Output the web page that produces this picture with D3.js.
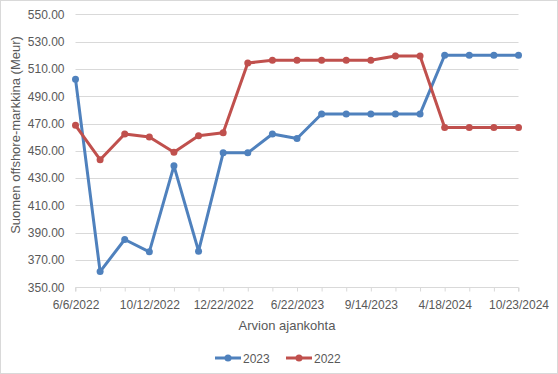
<!DOCTYPE html>
<html>
<head>
<meta charset="utf-8">
<script src="https://cdn.jsdelivr.net/npm/d3@7"></script>
<style>
  body { margin: 0; background: #fff; }
  text { font-family: "Liberation Sans", Arial, sans-serif; fill: #595959; }
</style>
</head>
<body>
<svg id="chart" width="558" height="374"></svg>
<script>
var outerWidth = 558;
var outerHeight = 374;

// dates of estimate (only every third is labelled on the axis)
var categories = ["6/6/2022", "8/1/2022", "9/5/2022", "10/12/2022", "11/9/2022", "12/1/2022",
  "12/22/2022", "2/15/2023", "4/19/2023", "6/22/2023", "7/12/2023", "8/16/2023",
  "9/14/2023", "11/8/2023", "1/24/2024", "4/18/2024", "6/12/2024", "8/28/2024", "10/23/2024"];
var values2023 = [502.5, 361.5, 385, 376, 439, 376.5, 448.5, 448.5, 462.3, 459, 477, 477,
  477, 477, 477, 520, 520, 520, 520];
var values2022 = [468.7, 443.5, 462.3, 460.1, 449, 461.1, 463.3, 514.3, 516.3, 516.3, 516.3, 516.3,
  516.3, 519.5, 519.5, 467, 467, 467, 467];
var yTicks = [350, 370, 390, 410, 430, 450, 470, 490, 510, 530, 550];

var series = [
  {name: "2023", values: values2023, color: "#4F81BD"},
  {name: "2022", values: values2022, color: "#C0504D"}
];

var svg = d3.select("#chart");
var plotLeft = 75.5, plotRight = 518.5, plotTop = 14.3, plotBottom = 287.3;

// outer border
svg.append("rect")
  .attr("x", 0.5).attr("y", 0.5)
  .attr("width", outerWidth - 1).attr("height", outerHeight - 1)
  .attr("fill", "#fff").attr("stroke", "#D9D9D9");

var xScale = d3.scalePoint().domain(categories).range([plotLeft, plotRight]);
var yScale = d3.scaleLinear().domain([350, 550]).range([plotBottom, plotTop]);

// gridlines
svg.append("g").selectAll("line").data(yTicks.slice(1))
  .enter().append("line")
  .attr("x1", plotLeft).attr("x2", plotRight)
  .attr("y1", function(d) { return Math.round(yScale(d)) + 0.5; })
  .attr("y2", function(d) { return Math.round(yScale(d)) + 0.5; })
  .attr("stroke", "#D9D9D9").attr("stroke-width", 1);

// y axis labels
var yAxis = d3.axisLeft(yScale).tickValues(yTicks).tickSize(0).tickPadding(11)
  .tickFormat(d3.format(".2f"));
var yg = svg.append("g").attr("transform", "translate(" + plotLeft + ",0)").call(yAxis);
yg.select(".domain").remove();
yg.selectAll("text").style("font-size", "12px").attr("fill", "#595959")
  .style("font-family", "Liberation Sans, Arial, sans-serif");

// x axis
var xAxis = d3.axisBottom(xScale).tickSize(4).tickPadding(9)
  .tickFormat(function(d, i) { return i % 3 === 0 ? d : ""; });
var xg = svg.append("g").attr("transform", "translate(0," + (Math.round(plotBottom) + 0.5) + ")").call(xAxis);
xg.select(".domain").attr("stroke", "#D9D9D9").attr("d", "M" + plotLeft + ",4V0H" + plotRight + "V4");
xg.selectAll(".tick line").attr("stroke", "#D9D9D9");
xg.selectAll("text").style("font-size", "12px").attr("fill", "#595959")
  .style("font-family", "Liberation Sans, Arial, sans-serif");

// axis titles
svg.append("text")
  .attr("transform", "translate(20,135) rotate(-90)")
  .attr("text-anchor", "middle")
  .style("font-size", "13px")
  .text("Suomen offshore-markkina (Meur)");
svg.append("text")
  .attr("x", 287).attr("y", 330)
  .attr("text-anchor", "middle")
  .style("font-size", "13px")
  .text("Arvion ajankohta");

// lines
var line = d3.line()
  .x(function(d, i) { return xScale(categories[i]); })
  .y(function(d) { return yScale(d); });

series.forEach(function(s) {
  svg.append("path").datum(s.values)
    .attr("d", line)
    .attr("fill", "none")
    .attr("stroke", s.color)
    .attr("stroke-width", 3)
    .attr("stroke-linejoin", "round");
  svg.append("g").selectAll("circle").data(s.values)
    .enter().append("circle")
    .attr("cx", function(d, i) { return xScale(categories[i]); })
    .attr("cy", function(d) { return yScale(d); })
    .attr("r", 3.5)
    .attr("fill", s.color);
});

// legend
var legend = svg.append("g").attr("transform", "translate(215,358)");
var legendItems = legend.selectAll("g").data(series).enter().append("g")
  .attr("transform", function(d, i) { return "translate(" + (i * 71) + ",0)"; });
legendItems.append("line")
  .attr("x1", 0).attr("x2", 26).attr("y1", 0).attr("y2", 0)
  .attr("stroke", function(d) { return d.color; }).attr("stroke-width", 3);
legendItems.append("circle")
  .attr("cx", 13).attr("cy", 0).attr("r", 3.5)
  .attr("fill", function(d) { return d.color; });
legendItems.append("text")
  .attr("x", 28).attr("y", 4.5)
  .style("font-size", "12px")
  .text(function(d) { return d.name; });
</script>
</body>
</html>
